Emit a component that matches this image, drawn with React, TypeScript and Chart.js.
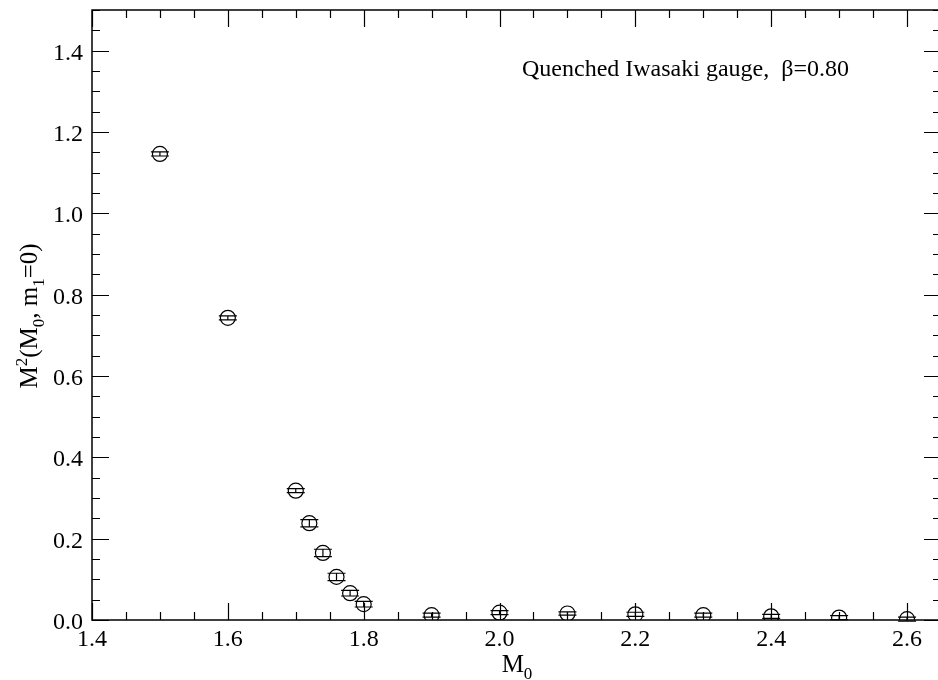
import React, { useEffect, useRef } from "react";
import { Chart, registerables } from "chart.js";
Chart.register(...registerables);

const FONT = '"Liberation Serif", "Times New Roman", serif';

// Data
const xValues = [1.5, 1.6, 1.7, 1.72, 1.74, 1.76, 1.78, 1.8, 1.9, 2.0, 2.1, 2.2, 2.3, 2.4, 2.5, 2.6];
const yValues = [1.146, 0.743, 0.318, 0.238, 0.165, 0.106, 0.066, 0.039, 0.012, 0.018, 0.016, 0.014, 0.012, 0.009, 0.006, 0.002];
const yErrors = [0.005, 0.005, 0.005, 0.009, 0.009, 0.009, 0.007, 0.007, 0.005, 0.005, 0.004, 0.005, 0.005, 0.005, 0.005, 0.005];

const xTickLabels = [1.4, 1.6, 1.8, 2.0, 2.2, 2.4, 2.6];
const yTickLabels = [0.0, 0.2, 0.4, 0.6, 0.8, 1.0, 1.2, 1.4];

const annotationText = "Quenched Iwasaki gauge,  \u03b2=0.80";

type Piece = { t: string; kind: "n" | "sub" | "sup" };
const yTitle: Piece[] = [
  { t: "M", kind: "n" },
  { t: "2", kind: "sup" },
  { t: "(M", kind: "n" },
  { t: "0", kind: "sub" },
  { t: ", m", kind: "n" },
  { t: "1", kind: "sub" },
  { t: "=0)", kind: "n" },
];
const xTitle: Piece[] = [
  { t: "M", kind: "n" },
  { t: "0", kind: "sub" },
];

function drawPieces(ctx: CanvasRenderingContext2D, pieces: Piece[], cx: number, baseline: number, size: number) {
  const small = Math.round(size * 0.68);
  const fontFor = (p: Piece) => `${p.kind === "n" ? size : small}px ${FONT}`;
  let total = 0;
  for (const p of pieces) {
    ctx.font = fontFor(p);
    total += ctx.measureText(p.t).width;
  }
  let x = cx - total / 2;
  ctx.textAlign = "left";
  ctx.textBaseline = "alphabetic";
  for (const p of pieces) {
    ctx.font = fontFor(p);
    const dy = p.kind === "sub" ? size * 0.28 : p.kind === "sup" ? -size * 0.4 : 0;
    ctx.fillText(p.t, x, baseline + dy);
    x += ctx.measureText(p.t).width;
  }
}

export default function App() {
  const ref = useRef<HTMLCanvasElement>(null);

  useEffect(() => {
    if (!ref.current) return;

    const decor = {
      id: "decor",
      afterDatasetsDraw(chart: any) {
        const { ctx, chartArea: a, scales } = chart;
        const xs = scales.x;
        const ys = scales.y;
        ctx.save();
        ctx.strokeStyle = "#000";
        ctx.fillStyle = "#000";

        // error bars
        ctx.lineWidth = 1.2;
        for (let i = 0; i < xValues.length; i++) {
          const px = xs.getPixelForValue(xValues[i]);
          const pt = ys.getPixelForValue(yValues[i] + yErrors[i]);
          const pb = ys.getPixelForValue(yValues[i] - yErrors[i]);
          ctx.beginPath();
          ctx.moveTo(px, pt);
          ctx.lineTo(px, pb);
          ctx.moveTo(px - 9, pt);
          ctx.lineTo(px + 9, pt);
          ctx.moveTo(px - 9, pb);
          ctx.lineTo(px + 9, pb);
          ctx.stroke();
        }

        // frame
        ctx.lineWidth = 1.5;
        ctx.strokeRect(a.left, a.top, a.right - a.left, a.bottom - a.top);

        // ticks
        ctx.lineWidth = 1.2;
        const isMajor = (v: number) => Math.abs(v / 0.2 - Math.round(v / 0.2)) < 1e-6;
        ctx.beginPath();
        for (let k = 0; ; k++) {
          const v = 1.4 + k * 0.05;
          if (v > xs.max + 1e-9) break;
          const px = Math.round(xs.getPixelForValue(v)) + 0.5;
          const len = isMajor(v) ? 17 : 8;
          ctx.moveTo(px, a.bottom);
          ctx.lineTo(px, a.bottom - len);
          ctx.moveTo(px, a.top);
          ctx.lineTo(px, a.top + len);
        }
        for (let k = 0; ; k++) {
          const v = k * 0.05;
          if (v > ys.max + 1e-9) break;
          const py = Math.round(ys.getPixelForValue(v)) + 0.5;
          const len = isMajor(v) ? 17 : 8;
          ctx.moveTo(a.left, py);
          ctx.lineTo(a.left + len, py);
          ctx.moveTo(a.right, py);
          ctx.lineTo(a.right - len, py);
        }
        ctx.stroke();

        // tick labels
        ctx.font = `24px ${FONT}`;
        ctx.textBaseline = "alphabetic";
        ctx.textAlign = "center";
        for (const v of xTickLabels) {
          ctx.fillText(v.toFixed(1), xs.getPixelForValue(v), a.bottom + 26);
        }
        ctx.textAlign = "right";
        for (const v of yTickLabels) {
          ctx.fillText(v.toFixed(1), a.left - 9, ys.getPixelForValue(v) + 9);
        }

        // annotation
        ctx.textAlign = "left";
        ctx.fillText(annotationText, 522, 76);

        // x title
        drawPieces(ctx, xTitle, 517, 672, 25);

        // y title
        ctx.translate(37, 316);
        ctx.rotate(-Math.PI / 2);
        drawPieces(ctx, yTitle, 0, 0, 25);
        ctx.restore();
      },
    };

    const chart = new Chart(ref.current, {
      type: "scatter",
      data: {
        datasets: [
          {
            data: xValues.map((x, i) => ({ x, y: yValues[i] })),
            pointStyle: "circle",
            pointRadius: 7.5,
            pointBorderWidth: 1.2,
            borderColor: "#000",
            backgroundColor: "rgba(0,0,0,0)",
          },
        ],
      },
      options: {
        animation: false,
        responsive: false,
        devicePixelRatio: 1,
        layout: { autoPadding: false, padding: { top: 10, right: 1, left: 0, bottom: 0 } },
        plugins: { legend: { display: false }, tooltip: { enabled: false } },
        scales: {
          x: {
            type: "linear",
            min: 1.4,
            max: 2.65,
            afterBuildTicks: (s: any) => {
              s.ticks = xTickLabels.map((value) => ({ value }));
            },
            afterFit: (s: any) => {
              s.height = 60;
            },
            grid: { display: false, drawTicks: false },
            border: { display: false },
            ticks: { display: false },
          },
          y: {
            type: "linear",
            min: 0,
            max: 1.5,
            afterBuildTicks: (s: any) => {
              s.ticks = yTickLabels.map((value) => ({ value }));
            },
            afterFit: (s: any) => {
              s.width = 92;
            },
            grid: { display: false, drawTicks: false },
            border: { display: false },
            ticks: { display: false },
          },
        },
      },
      plugins: [decor],
    });
    return () => chart.destroy();
  }, []);

  return (
    <div style={{ position: "absolute", left: 0, top: 0, width: 938, height: 680, overflow: "hidden", background: "#fff" }}>
      <canvas ref={ref} width={942} height={680} />
    </div>
  );
}
